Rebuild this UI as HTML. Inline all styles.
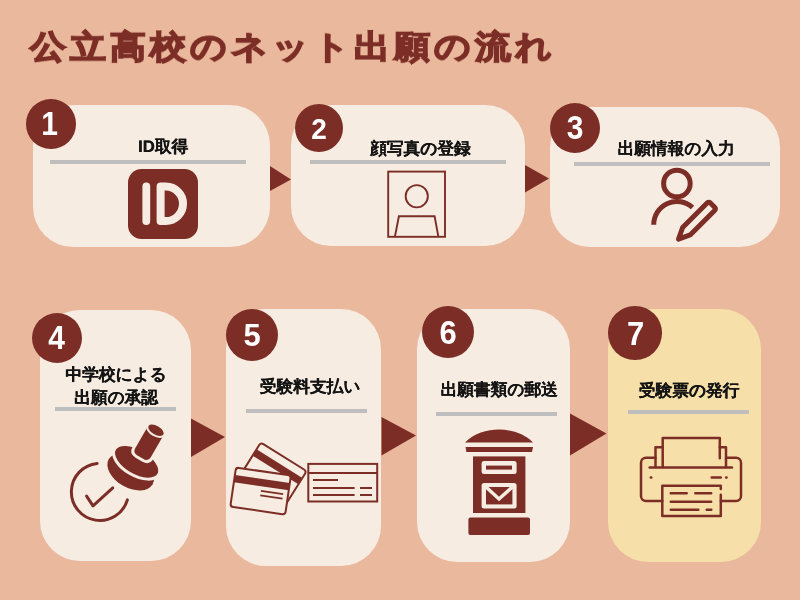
<!DOCTYPE html>
<html><head><meta charset="utf-8">
<style>
html,body{margin:0;padding:0;}
body{width:800px;height:600px;overflow:hidden;background:#EAB89D;position:relative;font-family:"Liberation Sans",sans-serif;}
.a{position:absolute;}
.box{position:absolute;background:#F6ECE2;border-radius:40px;}
.num{will-change:transform;position:absolute;border-radius:50%;background:#7C2E26;color:#fff;font-weight:bold;text-align:center;font-family:"Liberation Sans",sans-serif;}
.num span{position:absolute;left:0;right:0;}
.t{will-change:transform;position:absolute;font-weight:bold;color:#141414;font-size:16.7px;text-rendering:geometricPrecision;text-shadow:0.35px 0 0 #141414;line-height:22px;white-space:nowrap;text-align:center;}
.g{position:absolute;background:#BEBEBE;height:4px;}
.title{will-change:transform;position:absolute;left:30px;top:23px;font-size:36px;font-weight:bold;color:#7C2E26;letter-spacing:4px;-webkit-text-stroke:1.7px #7C2E26;transform:scaleY(0.895);white-space:nowrap;line-height:48px;}
svg{position:absolute;left:0;top:0;}
</style></head><body>
<div class="title">公立高校のネット出願の流れ</div>

<div class="box" style="left:33px;top:105px;width:237px;height:142px;"></div>
<div class="box" style="left:291px;top:105px;width:234px;height:141px;"></div>
<div class="box" style="left:550px;top:107px;width:230px;height:140px;"></div>
<div class="box" style="left:40px;top:310px;width:151px;height:251px;"></div>
<div class="box" style="left:226px;top:309px;width:155px;height:257px;"></div>
<div class="box" style="left:417px;top:309px;width:153px;height:253px;"></div>
<div class="box" style="left:608px;top:309px;width:153px;height:253px;background:#F6DFA8;"></div>

<div class="g" style="left:50px;top:160px;width:196px;"></div>
<div class="g" style="left:310px;top:160px;width:196px;"></div>
<div class="g" style="left:574px;top:162px;width:196px;"></div>
<div class="g" style="left:55px;top:407px;width:121px;"></div>
<div class="g" style="left:246px;top:409px;width:121px;"></div>
<div class="g" style="left:436px;top:412px;width:121px;"></div>
<div class="g" style="left:628px;top:410px;width:121px;"></div>

<div class="t" style="left:112.5px;top:135.5px;width:100px;">ID取得</div>
<div class="t" style="left:370px;top:138px;width:100px;">顔写真の登録</div>
<div class="t" style="left:616px;top:138px;width:120px;">出願情報の入力</div>
<div class="t" style="left:56px;top:363.5px;width:120px;line-height:22.5px;">中学校による<br>出願の承認</div>
<div class="t" style="left:249.5px;top:376px;width:120px;">受験料支払い</div>
<div class="t" style="left:439px;top:379px;width:120px;">出願書類の郵送</div>
<div class="t" style="left:629px;top:379.5px;width:120px;">受験票の発行</div>

<div class="num" style="left:25.5px;top:98.5px;width:49.5px;height:49.5px;"><span style="top:7.6px;left:-2.2px;font-size:30px;transform:scaleY(1.085);">1</span></div>
<div class="num" style="left:294.5px;top:104px;width:48px;height:48px;"><span style="top:8.7px;font-size:28px;transform:scaleY(1.08);">2</span></div>
<div class="num" style="left:550px;top:103px;width:50px;height:50px;"><span style="top:8.2px;font-size:30px;transform:scaleY(1.125);">3</span></div>
<div class="num" style="left:32px;top:312.7px;width:50px;height:50px;"><span style="top:8px;left:-1px;font-size:30px;transform:scaleY(1.13);">4</span></div>
<div class="num" style="left:226px;top:308.7px;width:52px;height:52px;"><span style="top:9.3px;font-size:31px;transform:scaleY(1.03);">5</span></div>
<div class="num" style="left:421.8px;top:305.8px;width:52px;height:52px;"><span style="top:9.1px;font-size:31px;transform:scaleY(1.064);">6</span></div>
<div class="num" style="left:608.2px;top:305.8px;width:53.5px;height:53.5px;"><span style="top:10px;left:1.5px;font-size:31px;transform:scaleY(1.086);">7</span></div>

<svg width="800" height="600" viewBox="0 0 800 600">
  <g fill="#7C2E26">
    <!-- arrows -->
    <polygon points="270,166 291,179.5 270,191"/>
    <polygon points="525,165 549,178.5 525,192.5"/>
    <polygon points="191,418.5 225,437 191,457"/>
    <polygon points="381.5,417 416,435.5 381.5,455.5"/>
    <polygon points="570,413.5 606.5,433.5 570,455.5"/>
  </g>

  <!-- icon1 ID -->
  <rect x="128" y="169" width="70" height="70" rx="13.5" fill="#7C2E26"/>
  <rect x="142.4" y="182.6" width="7.8" height="42.4" rx="3.9" fill="#F6ECE2"/>
  <path d="M160.6,186.6 H165.8 A17.2,17.2 0 0 1 165.8,221 H160.6 Z" fill="none" stroke="#F6ECE2" stroke-width="8" stroke-linejoin="round"/>
  <!-- icon2 photo -->
  <g fill="none" stroke="#7C2E26" stroke-width="1.9">
    <rect x="388.2" y="171.6" width="56.8" height="65.2"/>
    <circle cx="416.75" cy="196.25" r="11.1"/>
    <path d="M394.9,236.8 L398.9,216.3 H434.6 L438.4,236.8"/>
  </g>
  <!-- icon3 person+pencil -->
  <g fill="none" stroke="#7C2E26" stroke-width="5">
    <circle cx="676.9" cy="183.5" r="13.3"/>
    <path d="M653.7,224.8 A23.2,23.2 0 0 1 692.5,207.5"/>
  </g>
  <g transform="translate(714.3,203.3) rotate(45)">
    <path d="M-5.3,4.5 A2,2 0 0 1 -3.3,2.5 H3.3 A2,2 0 0 1 5.3,4.5 V39.5 L0,50.6 L-5.3,39.5 Z" fill="none" stroke="#7C2E26" stroke-width="5" stroke-linejoin="round"/>
  </g>
  <!-- icon4 stamp -->
  <g fill="none" stroke="#7C2E26" stroke-width="3" stroke-linecap="round" stroke-linejoin="round">
    <path d="M97.1,463.4 A28.6,28.6 0 1 0 127.4,499.9"/>
    <path d="M86.6,496.1 L93,505.8 L112.8,487.9"/>
  </g>
  <g transform="translate(156,430.3) rotate(30)" fill="#7C2E26">
    <ellipse cx="-1.2" cy="48.5" rx="25.3" ry="16"/>
    <ellipse cx="-1" cy="37" rx="25.5" ry="13.5" stroke="#F6ECE2" stroke-width="3"/>
    <path d="M-10.5,0 V26 Q-10.5,32.5 -4,32.5 H4 Q10.5,32.5 10.5,26 V0 Z" stroke="#F6ECE2" stroke-width="3"/>
    <ellipse cx="0" cy="0" rx="9.6" ry="5.4" stroke="#F6ECE2" stroke-width="2"/>
  </g>
  <!-- icon5 cards -->
  <g fill="none" stroke="#7C2E26" stroke-width="2">
    <g transform="translate(260.8,442.5) rotate(32)">
      <rect x="0" y="0" width="54" height="40" rx="3" fill="#F6ECE2"/>
      <rect x="0" y="8" width="54" height="7.5" fill="#7C2E26" stroke="none"/>
    </g>
    <g transform="translate(236,467.5) rotate(8.3)">
      <rect x="0" y="0" width="55.5" height="39.5" rx="3" fill="#F6ECE2"/>
      <rect x="0" y="7.5" width="55.5" height="7.5" fill="#7C2E26" stroke="none"/>
      <path d="M28,19.5 H50.5 M28,24 H50.5" stroke-width="1.8"/>
    </g>
    <rect x="308.3" y="463.9" width="68.9" height="37.6"/>
    <path d="M308.3,473 H377.2"/>
    <path d="M313,480 H338 M313,488 H354.6 M360,488 H372 M313,495 H354.6 M360,495 H372"/>
  </g>
  <!-- icon6 mailbox -->
  <g fill="#7C2E26">
    <path d="M465,442.4 C474,433.5 487,429.6 499,429.6 C511,429.6 524,433.5 533,442.4 Z"/>
    <path d="M465.5,447 H533 L532,452 H466.4 Z"/>
    <rect x="473" y="456.4" width="52.4" height="56.6"/>
    <rect x="468.4" y="517.6" width="61.6" height="17.4" rx="2"/>
  </g>
  <g fill="#F6ECE2">
    <rect x="481.6" y="461" width="35" height="13" rx="2.5"/>
    <rect x="481.6" y="483" width="35" height="25.4" rx="2.5"/>
  </g>
  <g fill="#7C2E26">
    <rect x="486" y="465.6" width="26" height="4"/>
    <rect x="486" y="487" width="26.4" height="17.4"/>
  </g>
  <path d="M486,487 L499,499 L512.4,487" fill="none" stroke="#F6ECE2" stroke-width="3.5"/>
  <!-- icon7 printer -->
  <g fill="none" stroke="#7C2E26" stroke-width="2.5" stroke-linecap="round" stroke-linejoin="round">
    <path d="M655.5,467 V447.3 H662.7 M719.8,447.3 H726 V467"/>
    <path d="M662.7,467 V438 H719.8 V458.3"/>
    <path d="M655.5,457.7 H646 A5,5 0 0 0 641,462.7 V496 A5,5 0 0 0 646,501 H662.3 M720.8,501 H736 A5,5 0 0 0 741,496 V462.7 A5,5 0 0 0 736,457.7 H726"/>
    <path d="M649.7,467.5 H732"/>
    <path d="M650.8,477.5 H651.3 M711.7,477.5 H720.8 M726.1,477.5 H726.6"/>
    <path d="M720.8,489 V485.7 H662.3 V516 H720.8 V494.7"/>
    <path d="M670.8,493.3 H686.7 M695.3,493.3 H711.2 M670.8,501.7 H711.2 M670.8,509.7 H698.3 M706.7,509.7 H711.3"/>
  </g>
</svg>
</body></html>
